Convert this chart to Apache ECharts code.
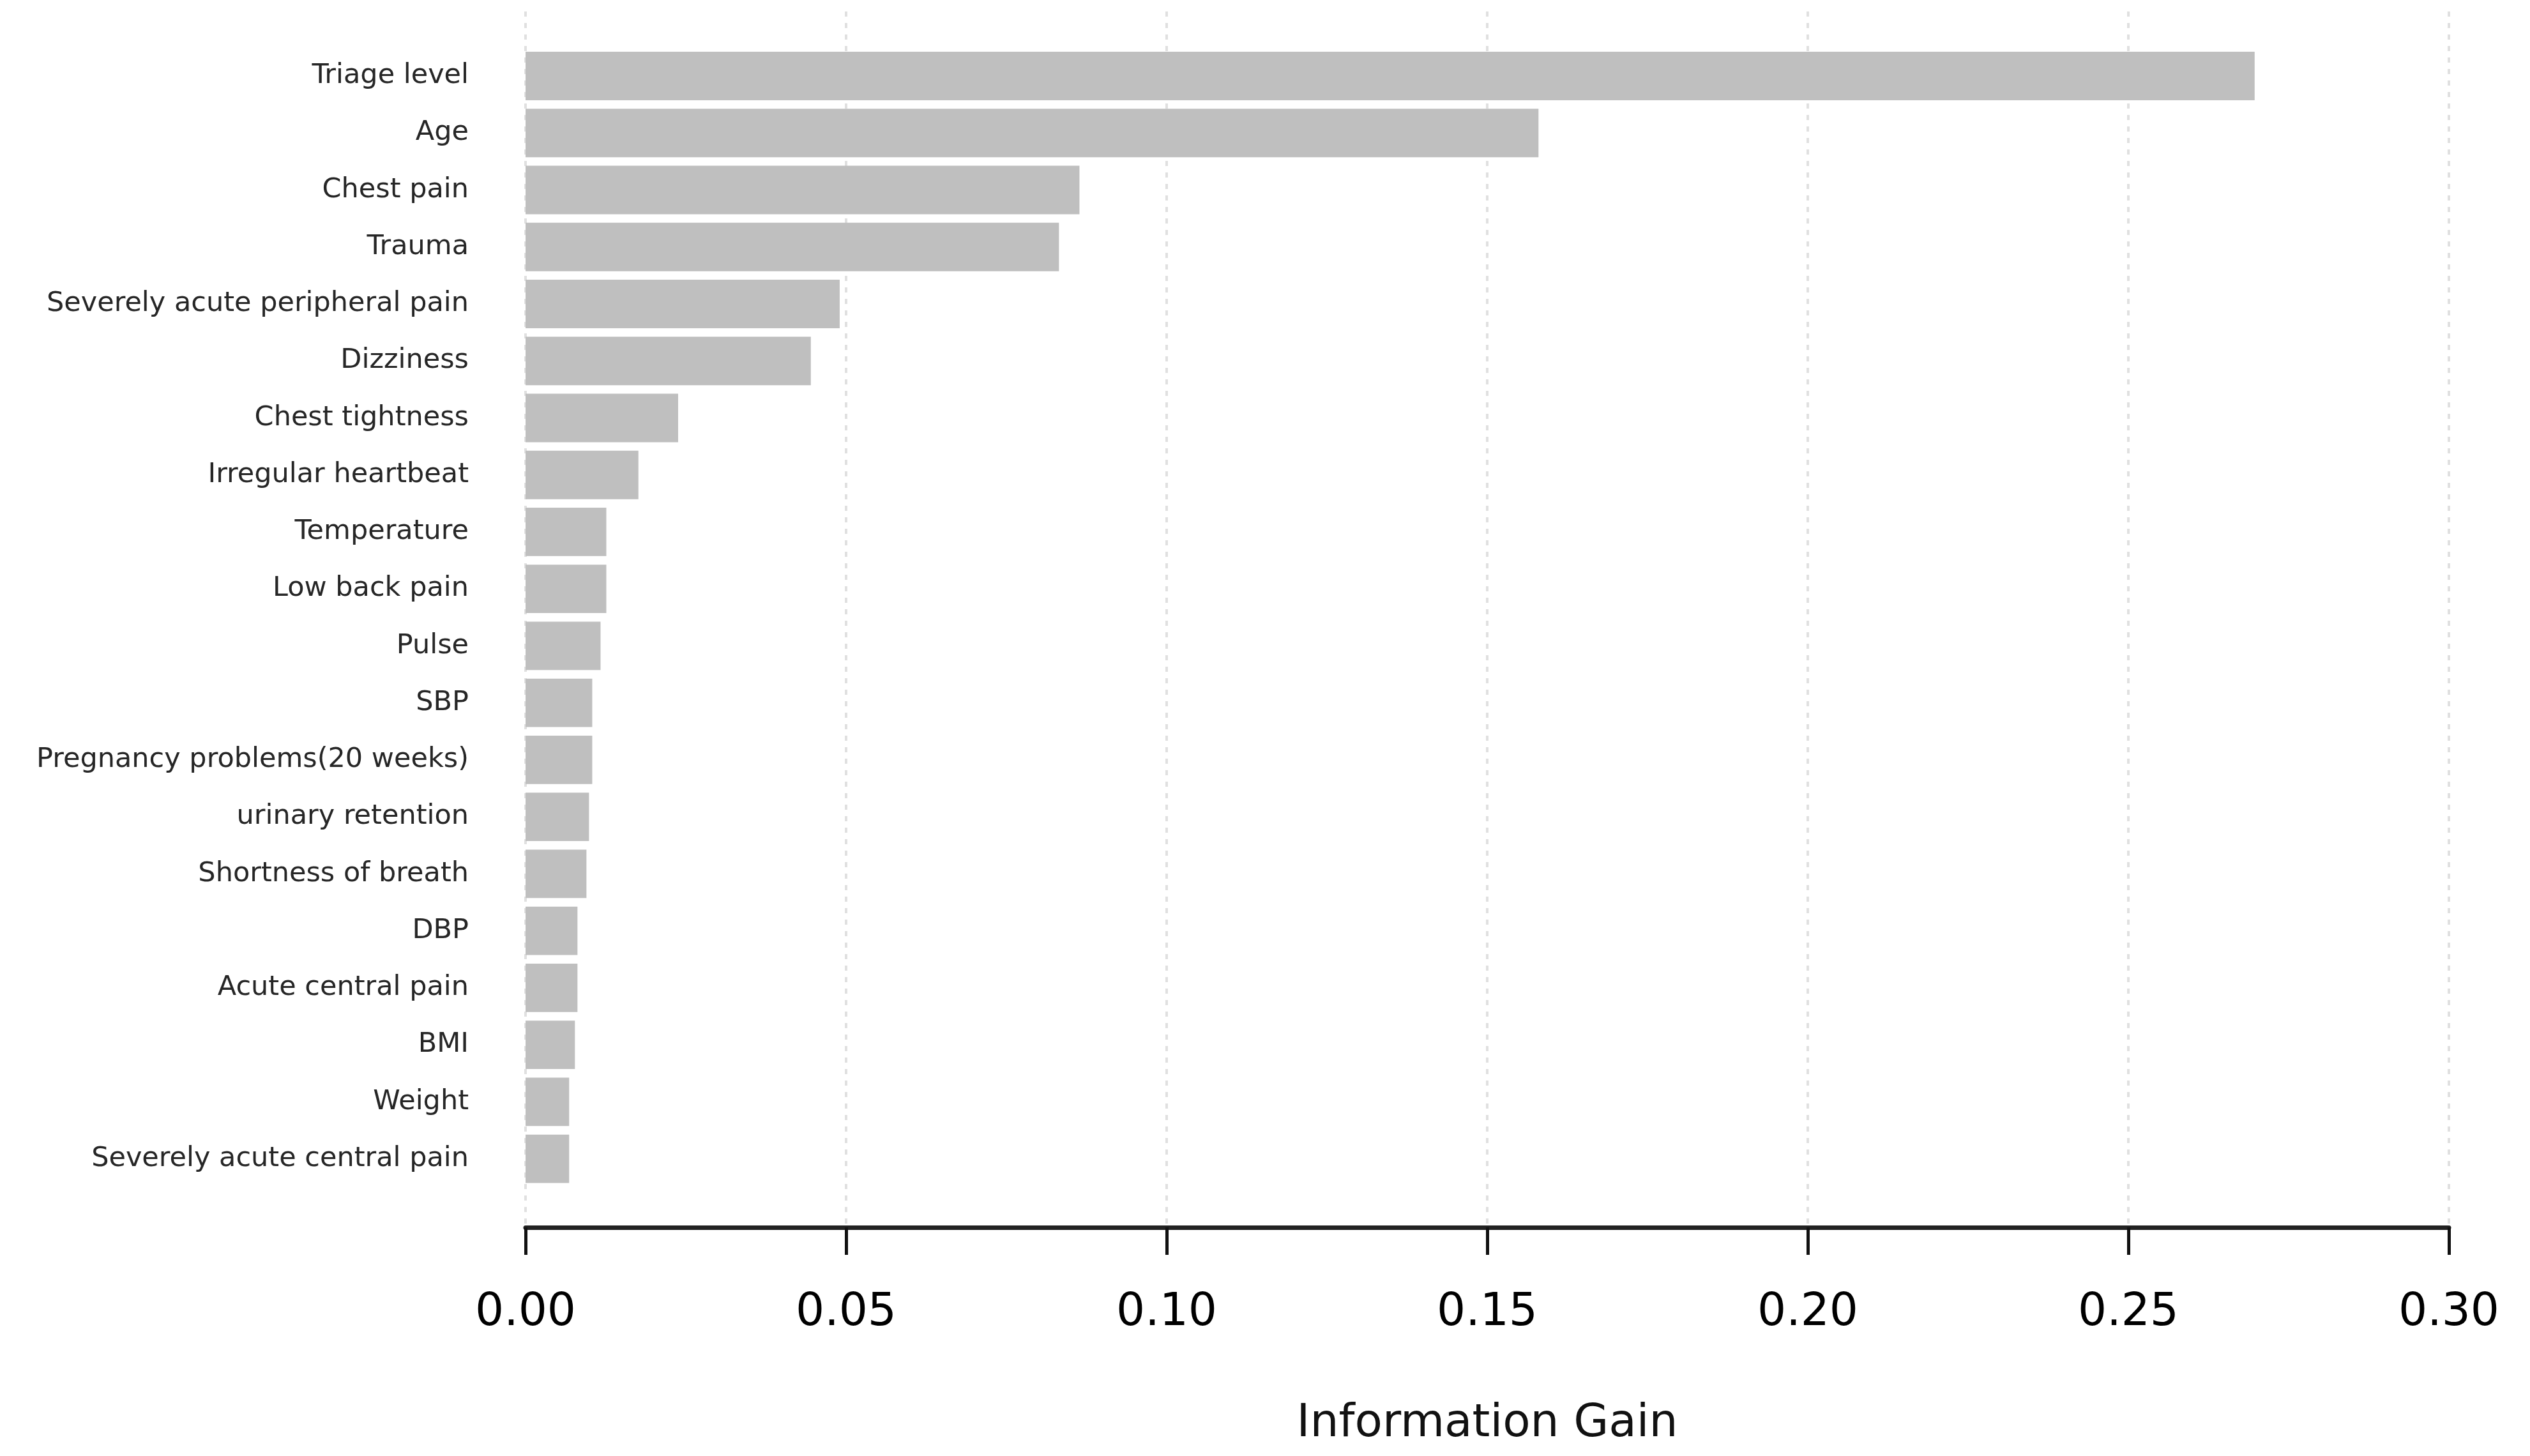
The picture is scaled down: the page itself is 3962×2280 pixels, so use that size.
<!DOCTYPE html>
<html>
<head>
<meta charset="utf-8">
<script src="https://cdn.jsdelivr.net/npm/echarts@6/dist/echarts.min.js"></script>
<style>
html, body { margin: 0; padding: 0; background: #ffffff; }
#chart { width: 3962px; height: 2280px; }
</style>
</head>
<body>
<div id="chart"></div>
<script>
const categories = [
  "Triage level", "Age", "Chest pain", "Trauma", "Severely acute peripheral pain",
  "Dizziness", "Chest tightness", "Irregular heartbeat", "Temperature", "Low back pain",
  "Pulse", "SBP", "Pregnancy problems(20 weeks)", "urinary retention", "Shortness of breath",
  "DBP", "Acute central pain", "BMI", "Weight", "Severely acute central pain"
];
const informationGain = [
  0.2697, 0.1580, 0.0864, 0.0832, 0.0490,
  0.0445, 0.0238, 0.0176, 0.0126, 0.0126,
  0.0117, 0.0104, 0.0104, 0.0099, 0.0095,
  0.0081, 0.0081, 0.0077, 0.0068, 0.0068
];
const xMin = 0;
const xMax = 0.30;
const xInterval = 0.05;
const axisTitle = "Information Gain";

const FONT = "DejaVu Sans";
const chart = echarts.init(document.getElementById('chart'), null, { renderer: 'canvas' });

chart.setOption({
  animation: false,
  backgroundColor: '#ffffff',
  grid: [
    { left: 823, right: 127, top: 18, bottom: 358, containLabel: false },
    { left: 823, right: 127, top: 74.4, height: 1784.8, containLabel: false }
  ],
  xAxis: [
    {
      gridIndex: 0,
      type: 'value',
      min: xMin,
      max: xMax,
      interval: xInterval,
      axisLine: { show: true, lineStyle: { color: '#222222', width: 7 } },
      axisTick: { show: true, length: 43, lineStyle: { color: '#111111', width: 5 } },
      axisLabel: {
        show: true,
        fontFamily: FONT,
        fontSize: 71,
        color: '#000000',
        margin: 135,
        verticalAlign: 'middle',
        formatter: function (v) { return v.toFixed(2); }
      },
      splitLine: { show: true, lineStyle: { color: '#e0e0e0', width: 4, type: [8, 10] } },
      name: axisTitle,
      nameLocation: 'middle',
      nameGap: 309,
      nameTextStyle: { fontFamily: FONT, fontSize: 71, color: '#111111', verticalAlign: 'middle' }
    },
    {
      gridIndex: 1,
      type: 'value',
      min: xMin,
      max: xMax,
      interval: xInterval,
      show: false
    }
  ],
  yAxis: [
    {
      gridIndex: 0,
      type: 'value',
      show: false
    },
    {
      gridIndex: 1,
      type: 'category',
      inverse: true,
      data: categories,
      axisLine: { show: false },
      axisTick: { show: false },
      splitLine: { show: false },
      axisLabel: {
        fontFamily: FONT,
        fontSize: 43,
        color: '#262626',
        margin: 89,
        padding: [10, 0, 0, 0]
      }
    }
  ],
  series: [
    {
      type: 'bar',
      xAxisIndex: 1,
      yAxisIndex: 1,
      data: informationGain,
      barCategoryGap: '15%',
      itemStyle: { color: '#bfbfbf' },
      z: 3
    }
  ]
});
</script>
</body>
</html>
